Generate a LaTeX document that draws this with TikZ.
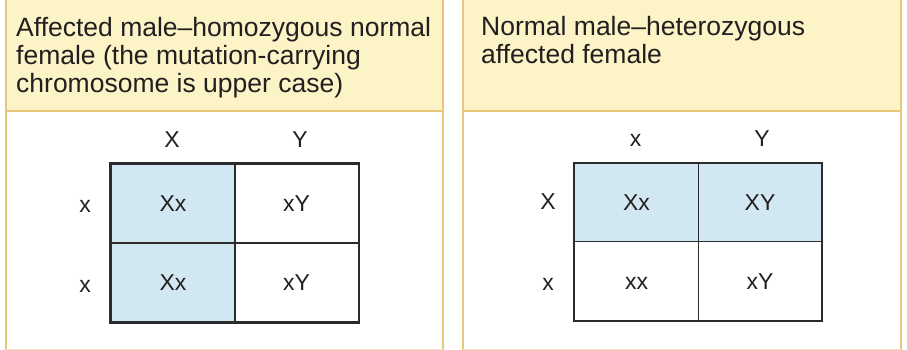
\documentclass[tikz,border=0pt]{standalone}
\usepackage{fontspec}
\setmainfont{Liberation Sans}
\definecolor{hdrfill}{HTML}{FCF3C6}
\definecolor{bordercol}{HTML}{E9C77A}
\definecolor{palebord}{HTML}{F3E3C0}
\definecolor{cellblue}{HTML}{D1E8F2}
\definecolor{inkcol}{HTML}{231F20}
\definecolor{gridcol}{HTML}{2B2B2B}
\tikzset{
  hdrtext/.style={anchor=north west, inner sep=0pt, align=left, text=inkcol,
    font=\fontsize{26.5}{28}\selectfont},
  gene/.style={anchor=base, inner sep=0pt, text=inkcol, font=\fontsize{23}{26}\selectfont},
  cellbox/.style={draw=gridcol, line width=1.4pt, inner sep=0pt, text=inkcol,
    text height=16.5pt, text depth=0pt, font=\fontsize{23}{26}\selectfont},
  lcell/.style={cellbox, minimum width=124pt, minimum height=79pt},
  rcell/.style={cellbox, minimum width=123.5pt, minimum height=78.5pt},
  blue/.style={fill=cellblue},
  sideline/.style={draw=bordercol, line width=2pt},
}
\begin{document}
\begin{tikzpicture}[x=1pt,y=-1pt]
\useasboundingbox (0,0) rectangle (907,350);
% panels
\fill[hdrfill] (6,0) rectangle (443,111);
\fill[hdrfill] (463,0) rectangle (901,111);
\draw[sideline] (6,111) -- (443,111);
\draw[sideline] (463,111) -- (901,111);
\draw[sideline] (6,0) -- (6,350);
\draw[sideline] (443,0) -- (443,350);
\draw[sideline] (463,0) -- (463,350);
\draw[sideline] (901,0) -- (901,350);
\draw[palebord, line width=1pt] (6,349.5) -- (443,349.5);
\draw[palebord, line width=1pt] (463,349.5) -- (901,349.5);
% headers
\node[hdrtext] (hl) at (16,17.5) {Affected male–homozygous normal\\female (the mutation-carrying\\chromosome is upper case)};
\node[hdrtext] (hr) at (481,16) {Normal male–heterozygous\\affected female};
% left square
\node[gene] (lc1) at (172,147) {X};
\node[gene] (lc2) at (300,147) {Y};
\node[gene] (lr1) at (85,212) {x};
\node[gene] (lr2) at (85,292) {x};
\node[lcell, blue] (la) at (173,203.5) {Xx};
\node[lcell] (lb) at (296.5,203.5) {xY};
\node[lcell, blue] (lcc) at (173,282.5) {Xx};
\node[lcell] (ld) at (296.5,282.5) {xY};
\draw[gridcol, line width=2pt] (la.north west) rectangle (ld.south east);
% right square
\node[gene] (rc1) at (635.5,146.5) {x};
\node[gene] (rc2) at (762,146.5) {Y};
\node[gene] (rr1) at (548,209) {X};
\node[gene] (rr2) at (548,290) {x};
\node[rcell, blue] (ra) at (636.5,202.5) {Xx};
\node[rcell, blue] (rb) at (760,202.5) {XY};
\node[rcell] (rcc) at (636.5,281) {xx};
\node[rcell] (rd) at (760,281) {xY};
\draw[gridcol, line width=2pt] (ra.north west) rectangle (rd.south east);
\end{tikzpicture}
\end{document}
